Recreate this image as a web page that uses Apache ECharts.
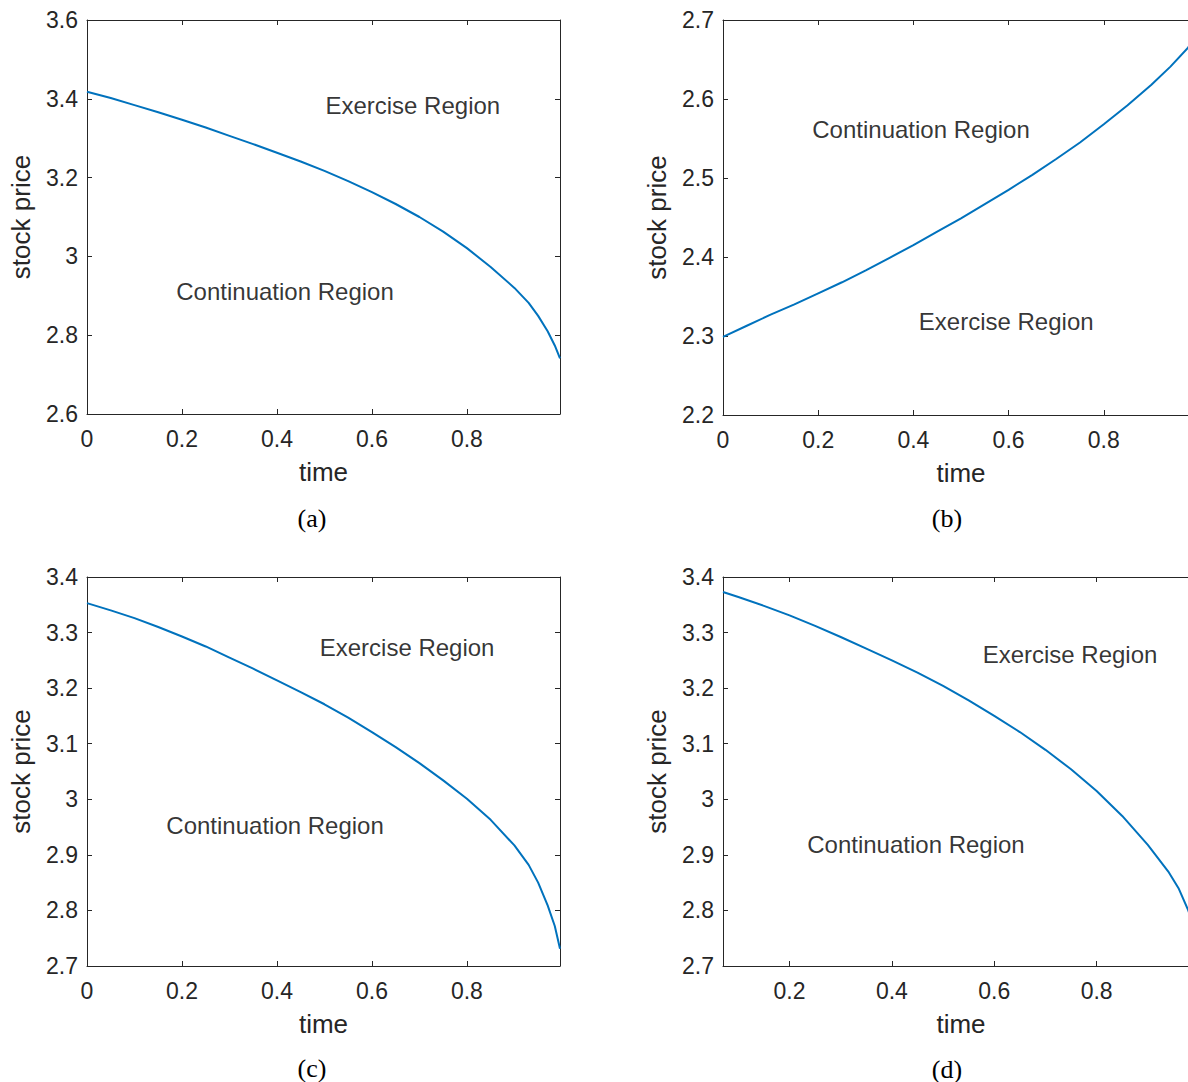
<!DOCTYPE html>
<html>
<head>
<meta charset="utf-8">
<script src="https://cdn.jsdelivr.net/npm/echarts@6/dist/echarts.min.js"></script>
<style>
html,body{margin:0;padding:0;background:#fff;}
#chart{width:1188px;height:1082px;}
</style>
</head>
<body>
<div id="chart"></div>
<script>
// ---- Data ----
const tA = [0, 0.05, 0.1, 0.15, 0.2, 0.25, 0.3, 0.35, 0.4, 0.45, 0.5, 0.55, 0.6, 0.65, 0.7, 0.75, 0.8, 0.85, 0.9, 0.93, 0.95, 0.97, 0.985, 0.996];
const pA = [3.418, 3.402, 3.384, 3.366, 3.347, 3.327, 3.306, 3.285, 3.263, 3.241, 3.217, 3.191, 3.163, 3.133, 3.100, 3.063, 3.021, 2.973, 2.920, 2.882, 2.849, 2.810, 2.774, 2.741];

const tB = [0, 0.05, 0.1, 0.15, 0.2, 0.25, 0.3, 0.35, 0.4, 0.45, 0.5, 0.55, 0.6, 0.65, 0.7, 0.75, 0.8, 0.85, 0.9, 0.94, 0.977, 0.995];
const pB = [2.299, 2.313, 2.327, 2.340, 2.354, 2.368, 2.383, 2.399, 2.415, 2.432, 2.449, 2.467, 2.485, 2.504, 2.524, 2.545, 2.568, 2.592, 2.618, 2.641, 2.665, 2.685];

const tC = [0, 0.05, 0.1, 0.15, 0.2, 0.25, 0.3, 0.35, 0.4, 0.45, 0.5, 0.55, 0.6, 0.65, 0.7, 0.75, 0.8, 0.85, 0.9, 0.93, 0.95, 0.97, 0.985, 0.996];
const pC = [3.353, 3.340, 3.326, 3.310, 3.293, 3.275, 3.255, 3.235, 3.214, 3.193, 3.171, 3.147, 3.121, 3.094, 3.065, 3.034, 3.001, 2.963, 2.917, 2.882, 2.850, 2.809, 2.772, 2.731];

const tD = [0.07, 0.1, 0.15, 0.2, 0.25, 0.3, 0.35, 0.4, 0.45, 0.5, 0.55, 0.6, 0.65, 0.7, 0.75, 0.8, 0.85, 0.9, 0.94, 0.96, 0.979, 0.995];
const pD = [3.373, 3.364, 3.348, 3.331, 3.312, 3.292, 3.271, 3.250, 3.228, 3.204, 3.178, 3.150, 3.121, 3.089, 3.054, 3.015, 2.970, 2.918, 2.870, 2.840, 2.800, 2.760];

// axis ranges
const xRanges = [[0, 0.996], [0, 1.0], [0, 0.996], [0.07, 1.0]];
const yRanges = [[2.6, 3.6], [2.2, 2.7], [2.7, 3.4], [2.7, 3.4]];
const yIntervals = [0.2, 0.1, 0.1, 0.1];

// region annotations [text, time, price]
const labelsA = [['Exercise Region', 0.686, 3.384], ['Continuation Region', 0.417, 2.910]];
const labelsB = [['Continuation Region', 0.416, 2.561], ['Exercise Region', 0.595, 2.318]];
const labelsC = [['Exercise Region', 0.674, 3.274], ['Continuation Region', 0.396, 2.952]];
const labelsD = [['Exercise Region', 0.748, 3.261], ['Continuation Region', 0.447, 2.918]];

const panelTags = ['(a)', '(b)', '(c)', '(d)'];
const xName = 'time';
const yName = 'stock price';

// ---- Layout / style ----
const grids = [
  {left: 87, top: 20, width: 473, height: 394},
  {left: 723, top: 20, width: 476, height: 395},
  {left: 87, top: 577, width: 473, height: 389},
  {left: 723, top: 577, width: 476, height: 389}
].map(g => Object.assign(g, {containLabel: false, outerBoundsMode: 'none'}));
const tagPos = [[312, 518], [947, 518], [312, 1068], [947, 1069]];
const AX = '#262626';
const FONT = 'Liberation Sans, Arial, Helvetica, sans-serif';
const BLUE = '#0072BD';

const series = [[tA, pA], [tB, pB], [tC, pC], [tD, pD]];
const labels = [labelsA, labelsB, labelsC, labelsD];

const xAxes = [], yAxes = [], seriesOpt = [], graphics = [];
for (let i = 0; i < 4; i++) {
  const xr = xRanges[i], yr = yRanges[i];
  const xCommon = {
    type: 'value', gridIndex: i, min: xr[0], max: xr[1],
    splitLine: {show: false},
    axisLine: {show: true, onZero: false, lineStyle: {color: AX, width: 1}},
    axisTick: {show: true, inside: true, length: 5, lineStyle: {color: AX}}
  };
  if (i !== 3) xCommon.interval = 0.2;
  const fmt = function (v) {
    if (Math.abs(v - Math.round(v * 5) / 5) > 1e-6) return '';
    return String(Math.round(v * 10) / 10);
  };
  xAxes.push(Object.assign({}, xCommon, {
    position: 'bottom',
    name: xName, nameLocation: 'middle', nameGap: 45,
    nameTextStyle: {color: AX, fontSize: 26, fontFamily: FONT},
    axisLabel: {color: AX, fontSize: 23, fontFamily: FONT, margin: 13,
      showMaxLabel: false, showMinLabel: i !== 3, formatter: fmt}
  }));
  xAxes.push(Object.assign({}, xCommon, {
    position: 'top', axisLabel: {show: false}
  }));
  const yCommon = {
    type: 'value', gridIndex: i, min: yr[0], max: yr[1], interval: yIntervals[i],
    splitLine: {show: false},
    axisLine: {show: true, onZero: false, lineStyle: {color: AX, width: 1}},
    axisTick: {show: true, inside: true, length: 5, lineStyle: {color: AX}}
  };
  yAxes.push(Object.assign({}, yCommon, {
    position: 'left',
    name: yName, nameLocation: 'middle', nameGap: 53,
    nameTextStyle: {color: AX, fontSize: 26, fontFamily: FONT},
    axisLabel: {color: AX, fontSize: 23, fontFamily: FONT, margin: 9}
  }));
  yAxes.push(Object.assign({}, yCommon, {
    position: 'right', axisLabel: {show: false}
  }));

  const [ts, ps] = series[i];
  seriesOpt.push({
    type: 'line', xAxisIndex: 2 * i, yAxisIndex: 2 * i,
    data: ts.map((t, k) => [t, ps[k]]),
    showSymbol: false, symbol: 'none',
    smooth: false,
    lineStyle: {color: BLUE, width: 2},
    clip: true, silent: true
  });
  seriesOpt.push({
    type: 'scatter', xAxisIndex: 2 * i, yAxisIndex: 2 * i,
    symbolSize: 0, silent: true,
    data: labels[i].map(l => ({name: l[0], value: [l[1], l[2]]})),
    label: {show: true, position: 'inside', formatter: '{b}',
      color: '#000', fontSize: 24, fontFamily: FONT}
  });
  graphics.push({
    type: 'text', x: tagPos[i][0], y: tagPos[i][1],
    style: {text: panelTags[i], fill: '#000', fontSize: 26,
      fontFamily: 'Liberation Serif, DejaVu Serif, serif',
      textAlign: 'center', textVerticalAlign: 'middle'}
  });
}

const chart = echarts.init(document.getElementById('chart'), null, {renderer: 'svg'});
chart.setOption({
  animation: false,
  backgroundColor: '#fff',
  grid: grids,
  xAxis: xAxes,
  yAxis: yAxes,
  series: seriesOpt,
  graphic: graphics
});
</script>
</body>
</html>
